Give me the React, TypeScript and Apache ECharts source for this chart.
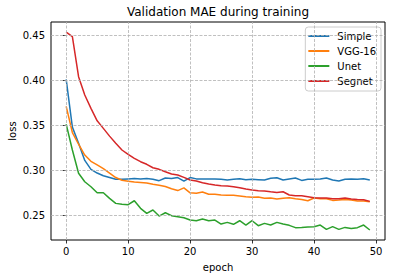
import React, { useEffect, useRef } from "react";
import * as echarts from "echarts";

const epochs = [0,1,2,3,4,5,6,7,8,9,10,11,12,13,14,15,16,17,18,19,20,21,22,23,24,25,26,27,28,29,30,31,32,33,34,35,36,37,38,39,40,41,42,43,44,45,46,47,48,49];

const simple = [0.401,0.348,0.330,0.311,0.301,0.297,0.294,0.292,0.290,0.290,0.2905,0.291,0.2905,0.291,0.290,0.2885,0.2915,0.291,0.292,0.288,0.292,0.2905,0.2905,0.2905,0.2905,0.290,0.2892,0.290,0.2907,0.2896,0.290,0.2896,0.2892,0.2911,0.2918,0.2892,0.2903,0.2914,0.2888,0.290,0.290,0.2903,0.2914,0.2892,0.2881,0.290,0.2903,0.290,0.2907,0.2892];

const vgg16 = [0.371,0.342,0.329,0.317,0.310,0.306,0.302,0.297,0.292,0.289,0.288,0.287,0.2865,0.286,0.2845,0.2835,0.282,0.2795,0.2775,0.2805,0.275,0.2745,0.276,0.2735,0.2735,0.2726,0.2722,0.2722,0.2715,0.2707,0.270,0.2703,0.2689,0.2692,0.2681,0.2689,0.2696,0.2685,0.2677,0.2662,0.2692,0.2685,0.2685,0.2666,0.267,0.2677,0.267,0.2659,0.2659,0.2651];

const unet = [0.3514,0.3226,0.2967,0.2873,0.2818,0.2751,0.2751,0.2689,0.2633,0.2622,0.2618,0.2662,0.2578,0.2522,0.2559,0.2492,0.2529,0.2496,0.2485,0.2474,0.2448,0.2440,0.2459,0.2440,0.2448,0.2403,0.2422,0.2400,0.2440,0.2392,0.2440,0.2385,0.2411,0.2392,0.2422,0.2403,0.2389,0.2363,0.2366,0.2370,0.2374,0.2392,0.2344,0.2374,0.2344,0.2366,0.2355,0.2363,0.2392,0.2337];

const segnet = [0.4535,0.4485,0.404,0.3837,0.3689,0.355,0.3466,0.338,0.330,0.3226,0.3178,0.3133,0.3096,0.3067,0.3029,0.3011,0.2984,0.2959,0.2948,0.2922,0.2892,0.2881,0.2862,0.2848,0.2837,0.2829,0.2826,0.2818,0.2807,0.2792,0.2781,0.2774,0.2770,0.2762,0.2755,0.2762,0.2726,0.2718,0.2718,0.2707,0.2696,0.2692,0.2692,0.2685,0.2685,0.2692,0.2681,0.2677,0.2674,0.2655];

const xTicks = [0, 10, 20, 30, 40, 50];
const yTicks = [0.25, 0.3, 0.35, 0.4, 0.45];

const seriesNames = ["Simple", "VGG-16", "Unet", "Segnet"];
const seriesValues = [simple, vgg16, unet, segnet];
const colors = ["#1f77b4", "#ff7f0e", "#2ca02c", "#d62728"];

const FONT = "DejaVu Sans";

export default function App() {
  const ref = useRef<HTMLDivElement>(null);
  useEffect(() => {
    document.body.style.margin = "0";
    const chart = echarts.init(ref.current!, null, { renderer: "svg" });
    const gridLine = { color: "#b0b0b0", width: 0.8, type: [3, 1.5] as any };
    const lineSeries = seriesNames.map((name, i) => ({
      name,
      type: "line",
      data: epochs.map((e, j) => [e, seriesValues[i][j]]),
      showSymbol: false,
      symbol: "none",
      z: 3,
      lineStyle: { color: colors[i], width: 1.5 },
      itemStyle: { color: colors[i] },
    }));
    chart.setOption({
      animation: false,
      grid: {
        left: 51,
        top: 22,
        width: 334,
        height: 218,
        show: true,
        borderColor: "#000",
        borderWidth: 1,
        backgroundColor: "transparent",
      },
      graphic: [
        {
          type: "text",
          x: 218,
          y: 12,
          style: {
            text: "Validation MAE during training",
            font: `12px "${FONT}"`,
            fill: "#000",
            textAlign: "center",
            textVerticalAlign: "middle",
          },
        },
        {
          type: "text",
          x: 218,
          y: 267,
          style: {
            text: "epoch",
            font: `10px "${FONT}"`,
            fill: "#000",
            textAlign: "center",
            textVerticalAlign: "middle",
          },
        },
        {
          type: "text",
          x: 12,
          y: 131,
          rotation: Math.PI / 2,
          style: {
            text: "loss",
            font: `10px "${FONT}"`,
            fill: "#000",
            textAlign: "center",
            textVerticalAlign: "middle",
          },
        },
      ],
      legend: {
        data: seriesNames,
        orient: "vertical",
        right: 14,
        top: 27,
        icon: "rect",
        itemWidth: 21,
        itemHeight: 2,
        itemGap: 3,
        padding: [3, 5, 4, 3],
        backgroundColor: "rgba(255,255,255,0.8)",
        borderColor: "#cccccc",
        borderWidth: 1,
        borderRadius: 3,
        textStyle: {
          fontFamily: FONT,
          fontSize: 10,
          color: "#000",
          lineHeight: 12,
          padding: [0, 0, 0, 3],
        },
      },
      xAxis: {
        type: "value",
        min: -2.45,
        max: 51.45,
        axisLine: { show: false },
        splitLine: { show: false },
        axisTick: {
          show: true,
          customValues: xTicks,
          length: 3.5,
          lineStyle: { color: "#000", width: 0.8 },
        },
        axisLabel: {
          customValues: xTicks,
          fontFamily: FONT,
          fontSize: 10,
          color: "#000",
          margin: 6,
        },
      },
      yAxis: {
        type: "value",
        min: 0.2226,
        max: 0.4648,
        axisLine: { show: false },
        splitLine: { show: false },
        axisTick: {
          show: true,
          customValues: yTicks,
          length: 3.5,
          lineStyle: { color: "#000", width: 0.8 },
        },
        axisLabel: {
          customValues: yTicks,
          fontFamily: FONT,
          fontSize: 10,
          color: "#000",
          margin: 6,
          formatter: (v: number) => v.toFixed(2),
        },
      },
      series: [
        {
          type: "line",
          data: [[0, 0.3]],
          showSymbol: false,
          symbol: "none",
          lineStyle: { opacity: 0 },
          z: 1,
          silent: true,
          markLine: {
            silent: true,
            symbol: "none",
            label: { show: false },
            lineStyle: gridLine,
            data: [
              ...xTicks.map((v) => ({ xAxis: v })),
              ...yTicks.map((v) => ({ yAxis: v })),
            ],
          },
        },
        ...lineSeries,
      ],
    });
    return () => chart.dispose();
  }, []);
  return <div ref={ref} style={{ width: 395, height: 278 }} />;
}
